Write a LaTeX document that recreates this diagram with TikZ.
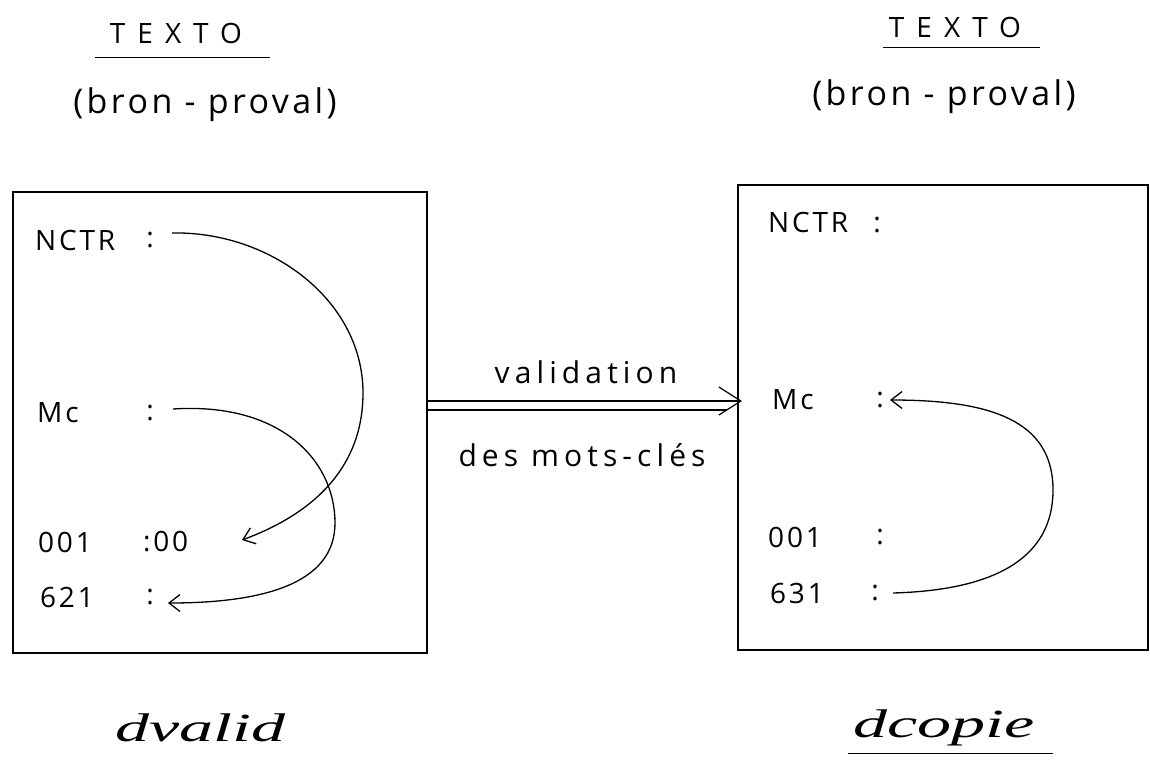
\documentclass[tikz,border=0pt]{standalone}
\usepackage{fontspec}
\usepackage{graphicx}
\newfontfamily\handfont{Open Sans}
\newfontfamily\tagfont{Liberation Serif}
\newcommand{\widetag}[1]{\scalebox{1.7}[1]{#1}}
\usetikzlibrary{arrows.meta}
\tikzset{
  field/.style={font=\handfont\fontsize{28}{32}\selectfont\addfontfeatures{LetterSpace=10}, inner sep=0pt},
  title/.style={font=\handfont\fontsize{28}{32}\selectfont\addfontfeatures{LetterSpace=43}, inner sep=0pt},
  sub/.style={font=\handfont\fontsize{34}{38}\selectfont\addfontfeatures{LetterSpace=10}, inner sep=0pt},
  note/.style={font=\handfont\fontsize{30}{34}\selectfont\addfontfeatures{LetterSpace=17}, inner sep=0pt},
  tag/.style={font=\tagfont\itshape\fontsize{40}{44}\selectfont, inner sep=0pt},
  link/.style={line width=1.3pt, -{Straight Barb[length=11pt,width=17pt,line width=1.3pt]}},
  frame/.style={line width=1.4pt}
}
\begin{document}
\begin{tikzpicture}[x=1pt,y=-1pt]
  \useasboundingbox (0,0) rectangle (1150,760);
  \draw[frame] (13,192) rectangle (427,653);
  \draw[frame] (738,185) rectangle (1148,650);
  \node[title] (texL) at (176,33) {TEXTO};
  \draw[line width=1pt] (95,58) -- (270,58);
  \node[sub] (bronL) at (205,105) {(bron - proval)};
  \node[title] (texR) at (955,27) {TEXTO};
  \draw[line width=1pt] (883,48) -- (1040,48);
  \node[sub] (bronR) at (944,97) {(bron - proval)};
  \node[field, anchor=west] (nctrL) at (35,240) {NCTR};
  \node[field] (cNL) at (150,240) {:};
  \node[field, anchor=west] (mcL) at (37,413) {Mc};
  \node[field] (cML) at (150,413) {:};
  \node[field, anchor=west] (ooaL) at (38,542) {001};
  \node[field, anchor=west] (cOL) at (143,542) {:00};
  \node[field, anchor=west] (sixL) at (40,597) {621};
  \node[field] (cSL) at (150,597) {:};
  \node[field, anchor=west] (nctrR) at (768,222) {NCTR};
  \node[field] (cNR) at (877,225) {:};
  \node[field, anchor=west] (mcR) at (772,400) {Mc};
  \node[field] (cMR) at (880,400) {:};
  \node[field, anchor=west] (ooaR) at (768,537) {001};
  \node[field] (cOR) at (880,537) {:};
  \node[field, anchor=west] (sixR) at (770,593) {631};
  \node[field] (cSR) at (875,593) {:};
  \coordinate (s1) at (172,233);
  \coordinate (e1) at (242,540);
  \coordinate (s2) at (173,409);
  \coordinate (e2) at (168,603);
  \coordinate (s3) at (893,593);
  \coordinate (e3) at (890,400);
  \draw[link] (s1) .. controls (270,231) and (363,300) .. (363,393)
    .. controls (363,470) and (310,515) .. (e1);
  \draw[link] (s2) .. controls (280,402) and (335,460) .. (335,523)
    .. controls (335,585) and (260,603) .. (e2);
  \draw[link] (s3) .. controls (1000,590) and (1053,555) .. (1053,490)
    .. controls (1053,420) and (990,400) .. (e3);
  \coordinate (vA) at (427,401);
  \coordinate (vB) at (742,401);
  \coordinate (wA) at (427,410);
  \coordinate (wB) at (727,410);
  \draw[line width=1.2pt, -{Straight Barb[length=22pt,width=28pt,line width=1.2pt]}] (vA) -- (vB);
  \draw[line width=1.2pt] (wA) -- (wB);
  \node[note] (valid) at (586,372) {validation};
  \node[note] (mots) at (582,455) {des mots-clés};
  \node[tag] (dvalid) at (200,728) {\widetag{dvalid}};
  \node[tag] (dcopie) at (944,728) {\widetag{dcopie}};
  \draw[line width=1pt] (848,753) -- (1053,753);
\end{tikzpicture}
\end{document}
